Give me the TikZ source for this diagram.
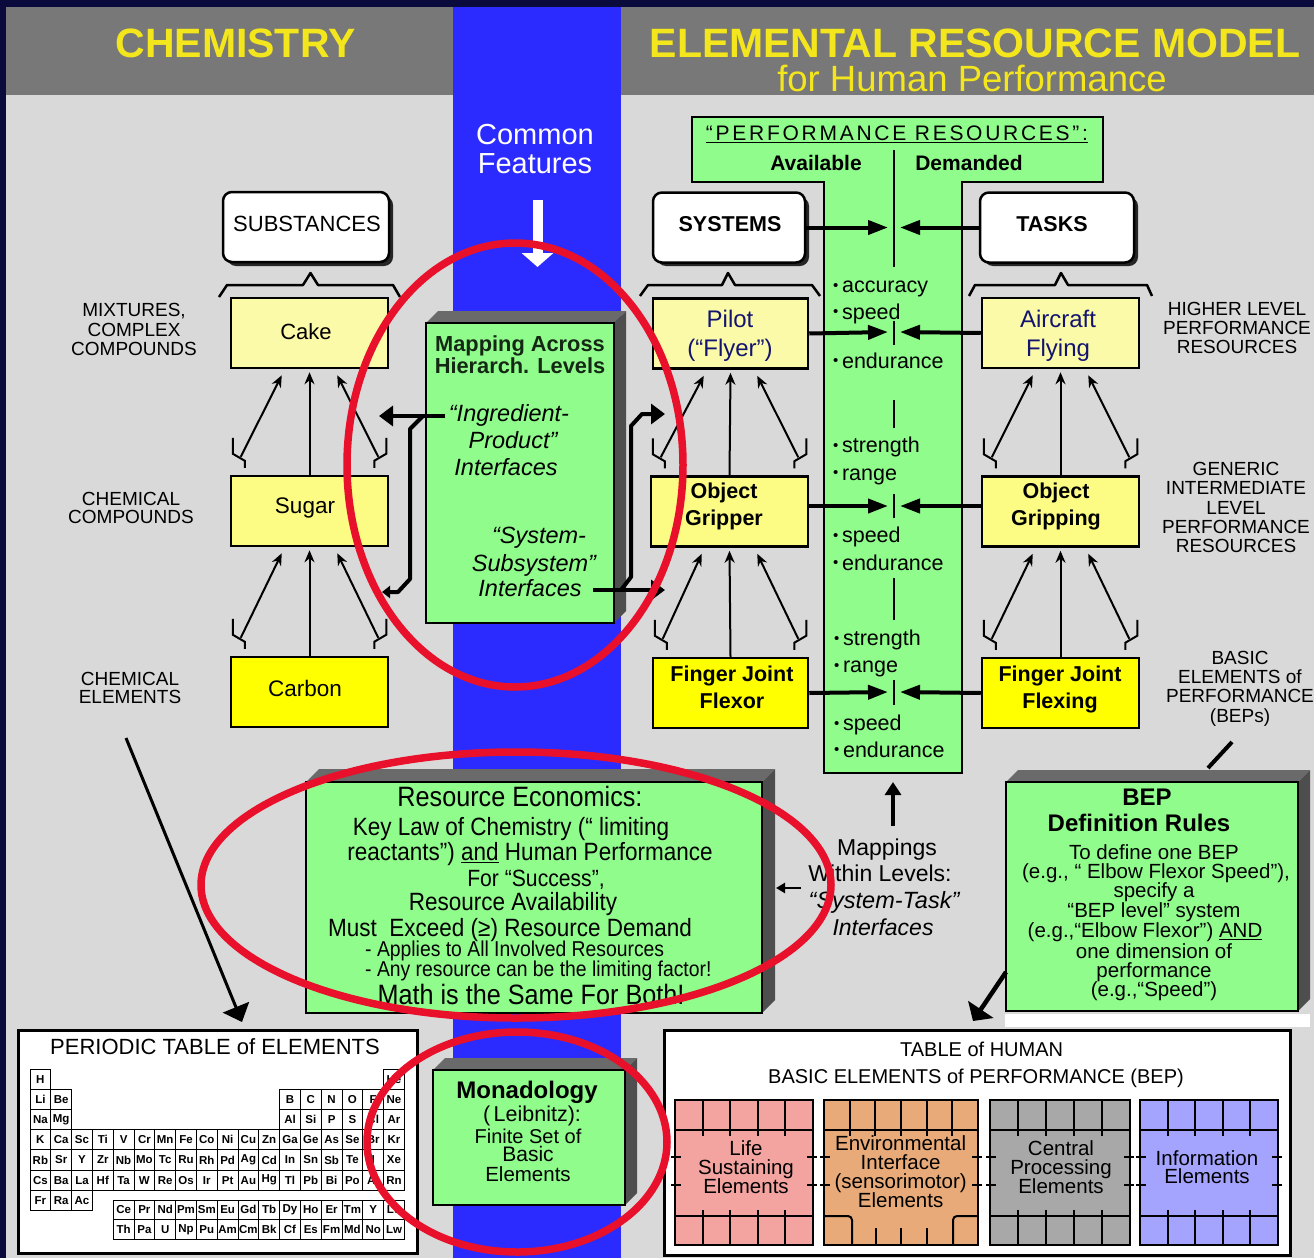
\documentclass[tikz,border=0pt]{standalone}
\usepackage{fontspec}
\setmainfont{Liberation Sans}
\newfontfamily\nar[FakeStretch=0.9]{Liberation Sans}
\newfontfamily\wide[LetterSpace=13]{Liberation Sans}
\usepackage{graphicx}
\usetikzlibrary{arrows.meta,calc}
\definecolor{navy}{HTML}{0A0A3C}
\definecolor{hdr}{HTML}{787878}
\definecolor{bodyg}{HTML}{D9D9D9}
\definecolor{band}{HTML}{2B2BFF}
\definecolor{ttl}{HTML}{F4E61C}
\definecolor{ylt}{HTML}{FAFAA8}
\definecolor{ymid}{HTML}{FCFC84}
\definecolor{ybr}{HTML}{FFFF00}
\definecolor{grn}{HTML}{90FC8C}
\definecolor{dkA}{HTML}{6A6A6A}
\definecolor{dkB}{HTML}{4E4E4E}
\definecolor{redc}{HTML}{E8102A}
\definecolor{ink}{HTML}{141470}
\definecolor{dgr}{HTML}{142814}
\definecolor{lifec}{HTML}{F4A4A0}
\definecolor{envc}{HTML}{E8AA78}
\definecolor{cenc}{HTML}{A8A8A8}
\definecolor{infc}{HTML}{A4A4FF}
\newcommand{\fz}[1]{\fontsize{#1}{#1}\selectfont}
\newcommand{\bul}{\raisebox{2.5pt}{\fz{15}•}\,}
\newcommand{\ML}[6]{\foreach \lnx [count=\lix] in {#6} {\node[txt,#5] (#1-\lix) at (#2,{#3+(\lix-1)*(#4)}) {\lnx};}}
\newcommand{\Cluster}[2]{%
 \draw[ar] (#2.north) -- ($(#1.south)+(0,3)$);
 \draw[fork] ($(#2.north west)+(3,-37)$) -- ++(0,16) -- ++(12,7) -- ++(0,7);
 \draw[ar] ($(#2.north west)+(11,-18)$) -- ($(#1.south west)+(52,6)$);
 \draw[fork] ($(#2.north east)+(-3,-37)$) -- ++(0,16) -- ++(-12,7) -- ++(0,7);
 \draw[ar] ($(#2.north east)+(-11,-18)$) -- ($(#1.south east)+(-52,6)$);}
\newcommand{\Tbox}[6]{%
 \fill[dkA] (#2,#3) -- ({#2+#6},{#3-#6}) -- ({#4+#6},{#3-#6}) -- (#4,#3) -- cycle;
 \fill[dkB] (#4,#3) -- ({#4+#6},{#3-#6}) -- ({#4+#6},{#5-#6}) -- (#4,#5) -- cycle;
 \node[draw,line width=2pt,fill=grn,inner sep=0pt,minimum width={#4-#2},minimum height={#5-#3}] (#1) at ({(#2+#4)/2},{(#3+#5)/2}) {};}
\newcommand{\Blk}[6]{%
 \node[draw,line width=2pt,fill=#4,inner sep=0pt,minimum width={#3-#2},minimum height=145pt] (#1) at ({(#2+#3)/2},1172.5) {};
 \draw[line width=2pt] (#2,1130) -- (#3,1130);
 \foreach \k in {1,...,#5} {\pgfmathsetmacro{\xx}{#2+\k*(#3-#2)/#6}
   \draw[line width=2pt] (\xx,1100) -- (\xx,1136);}
 \draw[line width=2pt] ({#2-4},1157) -- ++(10,0) ({#2-4},1185) -- ++(10,0)
   ({#3+4},1157) -- ++(-10,0) ({#3+4},1185) -- ++(-10,0);}
\newcommand{\BlkBot}[4]{%
 \draw[line width=2pt] (#1,1216) -- (#2,1216);
 \foreach \k in {1,...,#3} {\pgfmathsetmacro{\xx}{#1+\k*(#2-#1)/#4}
   \draw[line width=2pt] (\xx,1210) -- (\xx,1245);}}
\begin{document}
\begin{tikzpicture}[x=1pt,y=-1pt,
 txt/.style={inner sep=0pt,anchor=base},
 ybx/.style={draw,line width=2.5pt,inner sep=0pt,minimum height=70pt},
 ar/.style={line width=2pt,-{Stealth[length=12pt,width=10pt]}},
 fork/.style={line width=2pt},
 bar/.style={line width=4pt,-{Triangle[length=20pt,width=14pt]}},
 rbox/.style={draw,line width=2.5pt,fill=white,rounded corners=9pt,inner sep=0pt,minimum height=70pt},
 cell/.style={draw,line width=0.9pt,inner sep=0pt,minimum width=20.8pt,minimum height=20.2pt,font=\bfseries\fz{11.5}},
 ring/.style={draw=redc,line width=7.5pt}]
\useasboundingbox (0,0) rectangle (1314,1258);
% backgrounds
\fill[navy] (0,0) rectangle (1314,1258);
\fill[hdr] (6,7) rectangle (1314,95);
\fill[bodyg] (6,95) rectangle (1314,1258);
\fill[band] (453,7) rectangle (621,1258);
% titles
\node[txt,text=ttl,font=\bfseries\fz{41}] (tchem) at (235.5,57) {CHEMISTRY};
\node[txt,text=ttl,font=\bfseries\fz{41}] (term) at (975,57) {ELEMENTAL RESOURCE MODEL};
\node[txt,text=ttl,font=\fz{36.5}] (tfor) at (972,91) {for Human Performance};
\ML{cf}{535}{144}{29.3}{text=white,font=\fz{29}}{Common,Features}
\coordinate (wa1) at (537.5,200);
\coordinate (wa2) at (537.5,267);
\draw[white,line width=10pt,-{Triangle[length=14pt,width=31pt]}] (wa1) -- (wa2);
% T shape
\draw[line width=2.5pt,fill=grn] (692,117) -- (1103,117) -- (1103,182) -- (962,182) -- (962,773) -- (824,773) -- (824,182) -- (692,182) -- cycle;
\node[txt,font=\wide\fz{21}] (tpr) at (897,140.7) {\underline{“PERFORMANCE RESOURCES”:}};
\node[txt,font=\bfseries\fz{21}] (tav) at (816,170) {Available};
\node[txt,font=\bfseries\fz{21}] (tdm) at (969,170) {Demanded};
\draw[line width=2.5pt] (894,150) -- (894,267) (894,321) -- (894,345) (894,400) -- (894,428)
  (894,494) -- (894,518) (894,578) -- (894,620) (894,680) -- (894,705);
% rounded header boxes
\fill[black!85,rounded corners=9pt] (227,196) rectangle (393,266);
\node[rbox,minimum width=166pt] (subst) at (306,227) {};
\fill[black!85,rounded corners=9pt] (657,197) rectangle (809,266);
\node[rbox,minimum width=152pt] (systems) at (729,227.5) {};
\fill[black!85,rounded corners=9pt] (984,197) rectangle (1138,266);
\node[rbox,minimum width=154pt] (tasks) at (1057,227.5) {};
\node[txt,font=\fz{22}] (tsub) at (307,231.7) {SUBSTANCES};
\node[txt,font=\bfseries\fz{21.5}] (tsys) at (730,231.7) {SYSTEMS};
\node[txt,font=\bfseries\fz{21.5}] (ttask) at (1052,231.7) {TASKS};
% braces
\draw[line width=2.5pt,line join=round] (219,297) -- (227,285) -- (303,285) -- (310.5,273) -- (318,285) -- (393,285) -- (400,297);
\draw[line width=2.5pt,line join=round] (640,296) -- (648,285) -- (722,285) -- (728,273) -- (735,285) -- (812,285) -- (820,296);
\draw[line width=2.5pt,line join=round] (969,296) -- (975,285) -- (1055,285) -- (1061,273) -- (1068,285) -- (1147,285) -- (1152,296);
% yellow boxes
\node[ybx,fill=ylt,minimum width=157pt] (cake) at (309.5,333) {};
\node[ybx,fill=ymid,minimum width=157pt] (sugar) at (309.5,511) {};
\node[ybx,fill=ybr,minimum width=157pt] (carbon) at (309.5,692) {};
\node[ybx,fill=ylt,minimum width=155pt] (pilot) at (730.5,333.5) {};
\node[ybx,fill=ymid,minimum width=157pt] (gripper) at (729.5,511.5) {};
\node[ybx,fill=ybr,minimum width=155pt] (flexor) at (730.5,693) {};
\node[ybx,fill=ylt,minimum width=157pt] (aircraft) at (1060.5,333) {};
\node[ybx,fill=ymid,minimum width=157pt] (gripping) at (1060.5,511.5) {};
\node[ybx,fill=ybr,minimum width=157pt] (flexing) at (1060.5,693) {};
\node[txt,font=\fz{22}] (tcake) at (306,339.3) {Cake};
\node[txt,font=\fz{22.5}] (tsugar) at (305,513.3) {Sugar};
\node[txt,font=\fz{22.5}] (tcarbon) at (305,696.7) {Carbon};
\ML{tpil}{730}{327.7}{29}{text=ink,font=\fz{24}}{Pilot,(“Flyer”)}
\ML{tair}{1058}{327.7}{29}{text=ink,font=\fz{24}}{Aircraft,Flying}
\ML{tgrp}{724}{498.3}{26.7}{font=\bfseries\fz{21.5}}{Object,Gripper}
\ML{tgrg}{1056}{498.3}{26.7}{font=\bfseries\fz{21.5}}{Object,Gripping}
\ML{tfjf}{732}{681.7}{26.6}{font=\bfseries\fz{21.5}}{Finger Joint,Flexor}
\ML{tfjg}{1060}{681.7}{26.6}{font=\bfseries\fz{21.5}}{Finger Joint,Flexing}
% clusters
\Cluster{cake}{sugar}
\Cluster{sugar}{carbon}
\Cluster{pilot}{gripper}
\Cluster{gripper}{flexor}
\Cluster{aircraft}{gripping}
\Cluster{gripping}{flexing}
% horizontal arrows into T
\draw[bar] (systems.east) -- (888,227.5);
\draw[bar] (tasks.west) -- (900,227.5);
\draw[bar] (pilot.east) -- (888,332);
\draw[bar] (aircraft.west) -- (900,332);
\draw[bar] ($(gripper.east)+(0,-5.5)$) -- (888,506);
\draw[bar] ($(gripping.west)+(0,-5.5)$) -- (900,506);
\draw[bar] (flexor.east) -- (888,692);
\draw[bar] (flexing.west) -- (900,692);
% resource lists
\ML{la}{833}{292.7}{26.6}{anchor=base west,font=\fz{21.5}}{{\bul accuracy},{\bul speed}}
\node[txt,anchor=base west,font=\fz{21.5}] (lc) at (833,368) {\bul endurance};
\ML{lb}{833}{452.7}{27.3}{anchor=base west,font=\fz{21.5}}{{\bul strength},{\bul range}}
\ML{ld}{833}{542.7}{27.3}{anchor=base west,font=\fz{21.5}}{{\bul speed},{\bul endurance}}
\ML{le}{834}{645.7}{27}{anchor=base west,font=\fz{21.5}}{{\bul strength},{\bul range}}
\ML{lf}{834}{730.7}{26.6}{anchor=base west,font=\fz{21.5}}{{\bul speed},{\bul endurance}}
% side labels
\ML{lmix}{134}{316.7}{19.6}{font=\fz{19}}{{MIXTURES,},COMPLEX,COMPOUNDS}
\ML{lcc}{131}{505}{18.5}{font=\fz{19}}{CHEMICAL,COMPOUNDS}
\ML{lce}{130}{685}{18.5}{font=\fz{19}}{CHEMICAL,ELEMENTS}
\ML{lhl}{1237}{315}{19.2}{font=\fz{19}}{HIGHER LEVEL,PERFORMANCE,RESOURCES}
\ML{lgi}{1236}{475.7}{19.2}{font=\fz{19}}{GENERIC,INTERMEDIATE,LEVEL,PERFORMANCE,RESOURCES}
\ML{lbe}{1240}{664}{19.4}{font=\fz{19}}{BASIC,ELEMENTS of,PERFORMANCE,(BEPs)}
% mapping box
\Tbox{map}{426}{323}{614}{623}{12}
\ML{tmap}{520}{351.7}{21.6}{text=dgr,font=\bfseries\fz{21.8}}{Mapping Across,Hierarch. Levels}
\node[txt,font=\itshape\fz{23.5}] (ting1) at (509,421.7) {“Ingredient-};
\node[txt,font=\itshape\fz{23.5}] (ting2) at (513,448.3) {Product”};
\node[txt,font=\itshape\fz{23.5}] (ting3) at (506,475) {Interfaces};
\node[txt,font=\itshape\fz{23.5}] (tss1) at (539,543.3) {“System-};
\node[txt,font=\itshape\fz{23.5}] (tss2) at (534,571.7) {Subsystem”};
\node[txt,font=\itshape\fz{23.5}] (tss3) at (530,596) {Interfaces};
\coordinate (mla) at (445,416);
\coordinate (mlb) at (379,416);
\draw[line width=4.5pt,-{Triangle[length=14pt,width=20pt]}] (mla) -- (mlb);
\coordinate (mlc) at (423,416);
\coordinate (mld) at (382,592);
\draw[line width=4pt,line join=round,-{Triangle[length=8pt,width=12pt]}] (mlc) -- (410,429) -- (410,579) -- (398,592) -- (mld);
\coordinate (mra) at (593,590);
\coordinate (mrb) at (665,590);
\draw[line width=4.5pt,-{Triangle[length=14pt,width=20pt]}] (mra) -- (mrb);
\coordinate (mrc) at (621,590);
\coordinate (mrd) at (665,414);
\draw[line width=4pt,line join=round,-{Triangle[length=14pt,width=20pt]}] (mrc) -- (631,577) -- (631,426) -- (642,414) -- (mrd);
% resource economics
\Tbox{econ}{306}{782}{762}{1013}{13}
\node[txt,font=\nar\fz{28}] (re1) at (520,806.7) {Resource Economics:};
\node[txt,font=\nar\fz{25}] (re2) at (511,835) {Key Law of Chemistry (“ limiting};
\node[txt,font=\nar\fz{25}] (re3) at (530,860.7) {reactants”) \underline{and} Human Performance};
\node[txt,font=\nar\fz{23.5}] (re4) at (536,886) {For “Success”,};
\node[txt,font=\nar\fz{25}] (re5) at (513,910) {Resource Availability};
\node[txt,font=\nar\fz{25}] (re6) at (510,936) {Must\ \ Exceed (≥) Resource Demand};
\node[txt,anchor=base west,font=\nar\fz{21.5}] (re7) at (365,956) {- Applies to All Involved Resources};
\node[txt,anchor=base west,font=\nar\fz{21.5}] (re8) at (365,976) {- Any resource can be the limiting factor!};
\node[txt,font=\nar\fz{28}] (re9) at (531,1004) {Math is the Same For Both!};
% mappings within levels
\coordinate (upa) at (893,826);
\coordinate (upb) at (893,782);
\draw[line width=4pt,-{Triangle[length=13pt,width=16pt]}] (upa) -- (upb);
\coordinate (sla) at (801,888);
\coordinate (slb) at (776,888);
\draw[line width=2.5pt,-{Triangle[length=9pt,width=10pt]}] (sla) -- (slb);
\node[txt,font=\fz{23}] (mw1) at (887,855) {Mappings};
\node[txt,font=\fz{23}] (mw2) at (880,881.7) {Within Levels:};
\node[txt,font=\itshape\fz{23.5}] (mw3) at (884,908.3) {“System-Task”};
\node[txt,font=\itshape\fz{23}] (mw4) at (883,935) {Interfaces};
% BEP box
\draw[line width=4pt] (1232,742) -- (1208,768);
\Tbox{bep}{1006}{782}{1298}{1011}{12}
\fill[white] (1005,1014) rectangle (1310,1027);
\node[txt,font=\bfseries\fz{24}] (bp1) at (1147,805) {BEP};
\node[txt,font=\bfseries\fz{24}] (bp2) at (1139,831.7) {Definition Rules};
\node[txt,font=\fz{20.5}] (bp3) at (1154,859.3) {To define one BEP};
\node[txt,font=\fz{20.5}] (bp4) at (1156,878.3) {(e.g., “ Elbow Flexor Speed”),};
\node[txt,font=\fz{20.5}] (bp5) at (1154,897) {specify a};
\node[txt,font=\fz{20.5}] (bp6) at (1154,917.3) {“BEP level” system};
\node[txt,font=\fz{20.5}] (bp7) at (1145,937.3) {(e.g.,“Elbow Flexor”) \underline{AND}};
\node[txt,font=\fz{20.5}] (bp8) at (1154,958.3) {one dimension of};
\node[txt,font=\fz{20.5}] (bp9) at (1154,977) {performance};
\node[txt,font=\fz{20.5}] (bp10) at (1154,996.7) {(e.g.,“Speed”)};
\coordinate (bpa) at (1006,972);
\coordinate (bpb) at (973,1021);
\draw[line width=4.5pt,-{Triangle[length=14pt,width=30pt]}] (bpa) -- (bpb);
% long arrow to periodic table
\coordinate (cea) at (126,738);
\coordinate (ceb) at (242,1022);
\draw[line width=3pt,-{Triangle[length=16pt,width=28pt]}] (cea) -- (ceb);
% periodic table
\node[draw,line width=3pt,fill=white,inner sep=0pt,minimum width=399pt,minimum height=223pt] (ptab) at (217.5,1141.5) {};
\node[txt,font=\fz{22}] (ptt) at (215,1054.3) {PERIODIC TABLE of ELEMENTS};
\foreach \colx/\sym in {1/H,18/He} {\node[cell] (pa-\colx) at ({30+(\colx-0.5)*20.8},1079.1) {\sym};}
\foreach \colx/\sym in {1/Li,2/Be,13/B,14/C,15/N,16/O,17/F,18/Ne} {\node[cell] (pb-\colx) at ({30+(\colx-0.5)*20.8},1099.3) {\sym};}
\foreach \colx/\sym in {1/Na,2/Mg,13/Al,14/Si,15/P,16/S,17/Cl,18/Ar} {\node[cell] (pc-\colx) at ({30+(\colx-0.5)*20.8},1119.5) {\sym};}
\foreach \sym [count=\colx] in {K,Ca,Sc,Ti,V,Cr,Mn,Fe,Co,Ni,Cu,Zn,Ga,Ge,As,Se,Br,Kr} {\node[cell] (pd-\colx) at ({30+(\colx-0.5)*20.8},1139.7) {\sym};}
\foreach \sym [count=\colx] in {Rb,Sr,Y,Zr,Nb,Mo,Tc,Ru,Rh,Pd,Ag,Cd,In,Sn,Sb,Te,I,Xe} {\node[cell] (pe-\colx) at ({30+(\colx-0.5)*20.8},1159.9) {\sym};}
\foreach \sym [count=\colx] in {Cs,Ba,La,Hf,Ta,W,Re,Os,Ir,Pt,Au,Hg,Tl,Pb,Bi,Po,At,Rn} {\node[cell] (pf-\colx) at ({30+(\colx-0.5)*20.8},1180.1) {\sym};}
\foreach \sym [count=\colx] in {Fr,Ra,Ac} {\node[cell] (pg-\colx) at ({30+(\colx-0.5)*20.8},1200.3) {\sym};}
\foreach \sym [count=\colx] in {Ce,Pr,Nd,Pm,Sm,Eu,Gd,Tb,Dy,Ho,Er,Tm,Y,Lu} {\node[cell,minimum height=19.5pt] (ph-\colx) at ({30+(\colx+3.5)*20.8},1209.8) {\sym};}
\foreach \sym [count=\colx] in {Th,Pa,U,Np,Pu,Am,Cm,Bk,Cf,Es,Fm,Md,No,Lw} {\node[cell,minimum height=19.5pt] (pi-\colx) at ({30+(\colx+3.5)*20.8},1229.3) {\sym};}
% monadology
\Tbox{mona}{433}{1070}{625}{1205}{12}
\node[txt,font=\bfseries\fz{24}] (mo1) at (527,1098) {Monadology};
\node[txt,font=\fz{21.5}] (mo2) at (532,1121.7) {(\,Leibnitz):};
\node[txt,font=\fz{20}] (mo3) at (528,1143) {Finite Set of};
\node[txt,font=\fz{21}] (mo4) at (528,1161.7) {Basic};
\node[txt,font=\fz{20.5}] (mo5) at (528,1181.7) {Elements};
% human BEP table
\node[draw,line width=3pt,fill=white,inner sep=0pt,minimum width=626pt,minimum height=225pt] (htab) at (977,1142.5) {};
\node[txt,font=\fz{20}] (ht1) at (981.6,1056) {TABLE of HUMAN};
\node[txt,font=\fz{20}] (ht2) at (976,1083.3) {BASIC ELEMENTS of PERFORMANCE (BEP)};
\Blk{blife}{675}{813}{lifec}{4}{5}
\BlkBot{675}{813}{4}{5}
\Blk{benv}{824}{978}{envc}{5}{6}
\draw[line width=2pt,rounded corners=4pt] (824,1216) -- (852,1216) -- (852,1245);
\draw[line width=2pt,rounded corners=4pt] (978,1216) -- (953,1216) -- (953,1245);
\draw[line width=2pt] (876,1228) -- (876,1245) (901,1228) -- (901,1245) (927,1228) -- (927,1245);
\Blk{bcen}{990}{1130}{cenc}{4}{5}
\BlkBot{990}{1130}{4}{5}
\Blk{binf}{1140}{1278}{infc}{4}{5}
\BlkBot{1140}{1278}{4}{5}
\ML{tlife}{746}{1155}{19.2}{font=\fz{20.5}}{Life,Sustaining,Elements}
\ML{tenv}{900.6}{1150}{19.3}{font=\fz{20.5}}{Environmental,Interface,(sensorimotor),Elements}
\ML{tcen}{1061}{1155}{19.2}{font=\fz{20.5}}{Central,Processing,Elements}
\ML{tinf}{1207}{1165}{18.5}{font=\fz{20.5}}{Information,Elements}
% red rings
\draw[ring] (515,465) ellipse [x radius=168pt, y radius=222pt];
\draw[ring] (516,885) ellipse [x radius=315pt, y radius=133pt];
\draw[ring] (517,1142) ellipse [x radius=150pt, y radius=110pt];
\end{tikzpicture}
\end{document}
